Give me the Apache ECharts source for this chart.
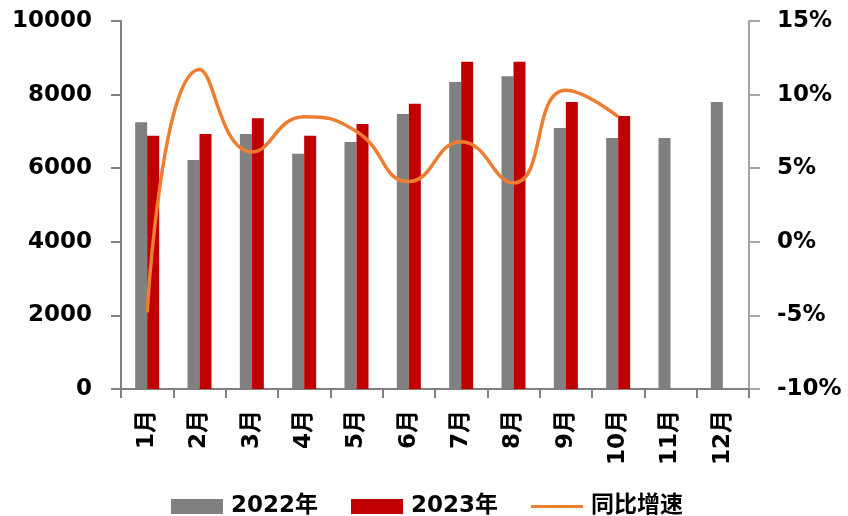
<!DOCTYPE html>
<html>
<head>
<meta charset="utf-8">
<script src="https://cdn.jsdelivr.net/npm/echarts@6/dist/echarts.min.js"></script>
<style>
  html, body { margin: 0; padding: 0; background: #fff; }
  #chart { width: 848px; height: 516px; }
</style>
</head>
<body>
<div id="chart"></div>
<script>
// Monthly volumes for two years plus year-on-year growth (%)
const months = ['1月', '2月', '3月', '4月', '5月', '6月', '7月', '8月', '9月', '10月', '11月', '12月'];
const values2022 = [7250, 6220, 6930, 6390, 6710, 7470, 8340, 8500, 7090, 6820, 6820, 7800];
const values2023 = [6880, 6930, 7360, 6880, 7200, 7750, 8890, 8890, 7800, 7420, null, null];
const growthPct = [-4.8, 11.7, 6.1, 8.5, 7.5, 4.1, 6.8, 4.0, 10.3, 8.5, null, null];
const leftTicks = { min: 0, max: 10000, interval: 2000 };
const rightTicks = { min: -10, max: 15, interval: 5 };

const FONT = '"DejaVu Sans", "Noto Sans CJK SC", sans-serif';
const labelStyle = { color: '#000', fontFamily: FONT, fontWeight: 'bold', fontSize: 23 };

const chart = echarts.init(document.getElementById('chart'), null, { renderer: 'canvas' });
chart.setOption({
  animation: false,
  backgroundColor: '#fff',
  grid: { left: 121, right: 99, top: 21, bottom: 127, containLabel: false },
  legend: {
    left: 166,
    top: 490,
    itemWidth: 52,
    itemHeight: 15,
    itemGap: 33,
    textStyle: { color: '#000', fontFamily: FONT, fontWeight: 'bold', fontSize: 23, padding: [0, 0, 0, 3] },
    data: [
      { name: '2022年', icon: 'rect' },
      { name: '2023年', icon: 'rect' },
      { name: '同比增速', icon: 'path://M0,0H55V3H0Z' }
    ]
  },
  xAxis: {
    type: 'category',
    data: months,
    axisLine: { lineStyle: { color: '#808080', width: 2 } },
    axisTick: { show: true, length: 9, lineStyle: { color: '#808080', width: 2 } },
    axisLabel: Object.assign({ rotate: 90, margin: 21, interval: 0 }, labelStyle),
    splitLine: { show: false }
  },
  yAxis: [
    {
      type: 'value',
      min: leftTicks.min, max: leftTicks.max, interval: leftTicks.interval,
      axisLine: { show: true, lineStyle: { color: '#808080', width: 2 } },
      axisTick: { show: true, length: 10, lineStyle: { color: '#808080', width: 2 } },
      axisLabel: Object.assign({ margin: 29, formatter: v => String(v) }, labelStyle),
      splitLine: { show: false }
    },
    {
      type: 'value',
      position: 'right',
      min: rightTicks.min, max: rightTicks.max, interval: rightTicks.interval,
      axisLine: { show: true, lineStyle: { color: '#a6a6a6', width: 2 } },
      axisTick: { show: true, length: 11, lineStyle: { color: '#a6a6a6', width: 2 } },
      axisLabel: Object.assign({ margin: 28, formatter: '{value}%' }, labelStyle),
      splitLine: { show: false }
    }
  ],
  series: [
    {
      name: '2022年', type: 'bar', data: values2022,
      barWidth: 12, barGap: '0%',
      itemStyle: { color: '#808080' }
    },
    {
      name: '2023年', type: 'bar', data: values2023,
      barWidth: 12, barGap: '0%',
      itemStyle: { color: '#C00000' }
    },
    {
      name: '同比增速', type: 'line', yAxisIndex: 1, data: growthPct,
      smooth: 0.5, symbol: 'none', connectNulls: false,
      lineStyle: { color: '#ED7D31', width: 3.5 },
      itemStyle: { color: '#ED7D31' }
    }
  ]
});
</script>
</body>
</html>
